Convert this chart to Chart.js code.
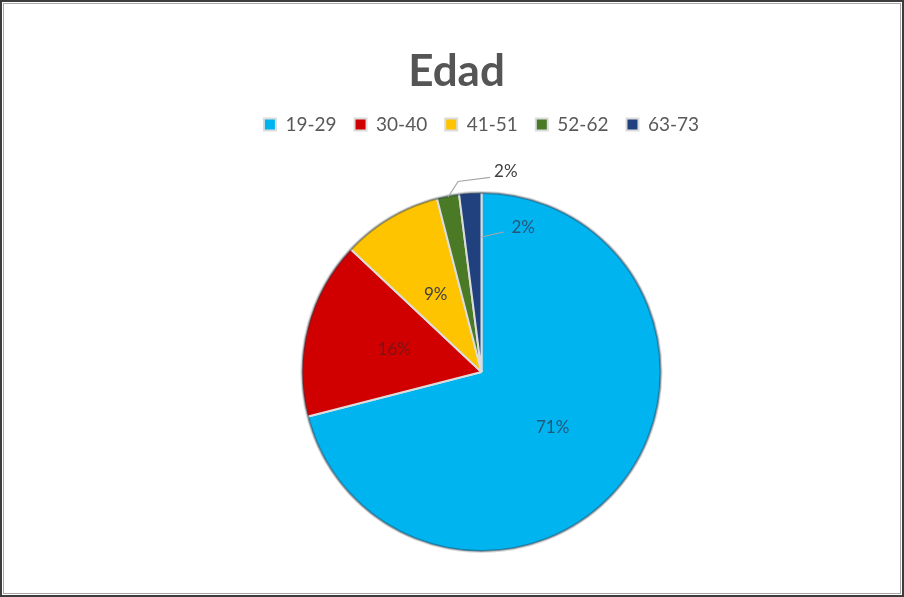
<!DOCTYPE html>
<html>
<head>
<meta charset="utf-8">
<script src="https://cdn.jsdelivr.net/npm/chart.js@4.4.1/dist/chart.umd.min.js"></script>
<style>
  html, body { margin: 0; padding: 0; background: #fff; }
  #wrap { position: relative; width: 904px; height: 597px; }
  #edadChart { position: absolute; left: 0; top: 0; }
  .frame { position: absolute; left: 0; top: 0; width: 904px; height: 597px; box-sizing: border-box; border: 2px solid #3c3c3c; pointer-events: none; }
  .frame-in { position: absolute; left: 3px; top: 3px; width: 898px; height: 591px; box-sizing: border-box; border: 1px solid #a8a8a8; pointer-events: none; }
</style>
</head>
<body>
<div id="wrap">
  <canvas id="edadChart" width="904" height="597"></canvas>
  <div class="frame"></div>
  <div class="frame-in"></div>
</div>
<script>
// Chart data
const chartTitle = "Edad";
const ageGroups = ["19-29", "30-40", "41-51", "52-62", "63-73"];
const percentValues = [71, 16, 9, 2, 2];
const sliceColors = ["#00b4f0", "#d00000", "#ffc400", "#4a7a26", "#20407e"];
const labelColors = ["#23577a", "#7a1414", "#404040", "#404040", "#23577a"];
// how each percent label is placed: in the slice, outside with a leader, or beside with a leader
const labelModes = ["inside", "inside", "inside", "outside", "beside"];

// draws the big title a little left of the pie, like the original
const titlePlugin = {
  id: "edadTitle",
  afterDraw(chart) {
    const ctx = chart.ctx;
    ctx.save();
    ctx.font = "bold 44px Lato";
    ctx.fillStyle = "#555555";
    ctx.textAlign = "center";
    ctx.textBaseline = "alphabetic";
    ctx.fillText(chartTitle, chart.width * 0.505, 86);
    ctx.restore();
  }
};

// extra room between legend and pie
const legendGap = {
  id: "legendGap",
  beforeInit(chart) {
    const fit = chart.legend.fit;
    chart.legend.fit = function() {
      fit.call(this);
      this.height += 47;
    };
  }
};

// darker rim round the pie (the original has a bevel / shadow edge)
const pieRim = {
  id: "pieRim",
  afterDatasetsDraw(chart) {
    const arc = chart.getDatasetMeta(0).data[0];
    if (!arc) return;
    const p = arc.getProps(["x", "y", "outerRadius"], true);
    const ctx = chart.ctx;
    ctx.save();
    ctx.beginPath();
    ctx.arc(p.x, p.y, p.outerRadius - 1, 0, Math.PI * 2);
    ctx.strokeStyle = "rgba(40, 60, 80, 0.45)";
    ctx.lineWidth = 2;
    ctx.stroke();
    ctx.restore();
  }
};

// percent labels
const sliceLabels = {
  id: "sliceLabels",
  afterDatasetsDraw(chart) {
    const ctx = chart.ctx;
    const meta = chart.getDatasetMeta(0);
    ctx.save();
    ctx.font = "17px Lato";
    ctx.textBaseline = "middle";
    ctx.strokeStyle = "#a6a6a6";
    ctx.lineWidth = 1.2;

    meta.data.forEach((arc, i) => {
      const p = arc.getProps(["x", "y", "startAngle", "endAngle", "outerRadius"], true);
      const mid = (p.startAngle + p.endAngle) / 2;
      const txt = percentValues[i] + "%";
      ctx.fillStyle = labelColors[i];

      if (labelModes[i] === "inside") {
        const r = p.outerRadius * 0.5;
        ctx.textAlign = "center";
        ctx.fillText(txt, p.x + Math.cos(mid) * r, p.y + Math.sin(mid) * r);
      } else if (labelModes[i] === "outside") {
        const x0 = p.x + Math.cos(mid) * p.outerRadius * 0.99;
        const y0 = p.y + Math.sin(mid) * p.outerRadius * 0.99;
        const x1 = x0 + 10;
        const y1 = p.y + Math.sin(mid) * (p.outerRadius + 14);
        ctx.beginPath();
        ctx.moveTo(x0, y0);
        ctx.lineTo(x1, y1);
        ctx.lineTo(x1 + 32, y1 - 4);
        ctx.stroke();
        ctx.textAlign = "left";
        ctx.fillText(txt, x1 + 36, y1 - 10);
      } else {
        const r = p.outerRadius * 0.75;
        const x0 = p.x + Math.cos(p.endAngle) * r;
        const y0 = p.y + Math.sin(p.endAngle) * r;
        ctx.beginPath();
        ctx.moveTo(x0, y0);
        ctx.lineTo(x0 + 22, y0 - 5);
        ctx.stroke();
        ctx.textAlign = "left";
        ctx.fillText(txt, x0 + 30, y0 - 9);
      }
    });
    ctx.restore();
  }
};

const ctx = document.getElementById("edadChart").getContext("2d");
new Chart(ctx, {
  type: "pie",
  data: {
    labels: ageGroups,
    datasets: [{
      data: percentValues,
      backgroundColor: sliceColors,
      borderColor: "#dcdcdc",
      borderWidth: 2,
      hoverOffset: 0
    }]
  },
  options: {
    responsive: false,
    animation: false,
    layout: {
      padding: { top: 97, bottom: 44, left: 221, right: 162 }
    },
    plugins: {
      title: { display: false },
      tooltip: { enabled: false },
      legend: {
        position: "top",
        labels: {
          color: "#595959",
          boxWidth: 12,
          boxHeight: 12,
          padding: 18,
          font: { family: "Lato", size: 19 }
        }
      }
    }
  },
  plugins: [legendGap, pieRim, sliceLabels, titlePlugin]
});
</script>
</body>
</html>
